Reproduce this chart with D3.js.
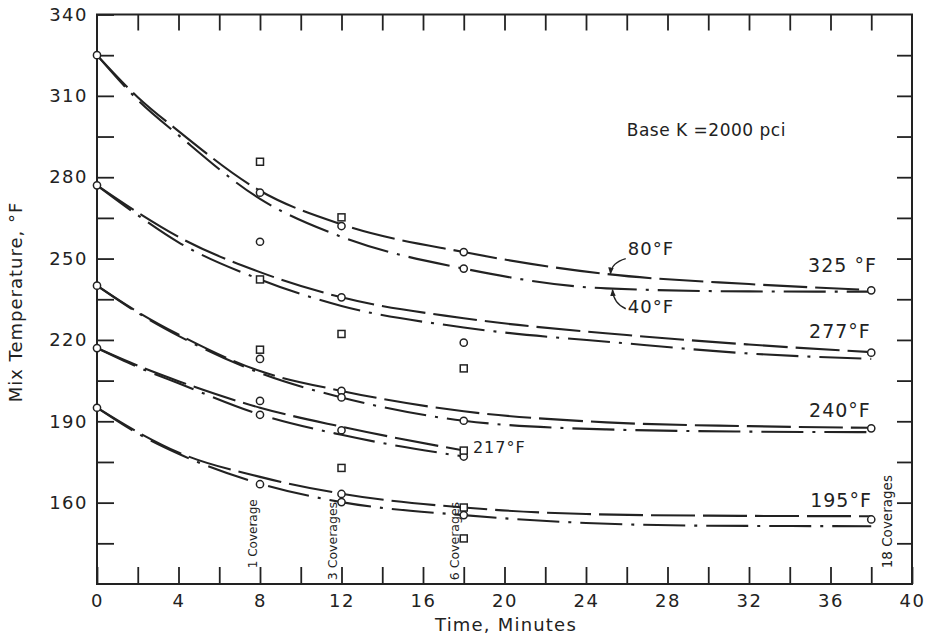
<!DOCTYPE html>
<html><head><meta charset="utf-8">
<script src="https://cdn.jsdelivr.net/npm/d3@7"></script>
<style>
body{margin:0;background:#fff}
svg text{font-family:"DejaVu Sans",sans-serif;fill:#222}
</style></head><body>
<svg id="chart" width="931" height="639"></svg>
<script>
// Axis ticks and labels
const xTickValues = d3.range(0, 41, 2);
const xLabelValues = d3.range(0, 41, 4);
const yTickValues = d3.range(145, 341, 15);
const yLabelValues = d3.range(160, 341, 30);

// Mix temperature vs time, [minutes, °F]; 80°F air = long dash, 40°F air = dash-dot
const mix325_air80 = [[0,325],[2,309.5],[4,297],[8,275],[12,262.6],[18,252.4],[25,244.3],[32,240.6],[38,238.4]];
const mix325_air40 = [[0,325],[2,308.5],[4,295.5],[8,272],[12,258],[18,246.3],[25,239],[32,237.9],[38,237.8]];
const mix277_air80 = [[0,277],[2,267],[4,258],[8,245],[12,235.7],[18,228],[26,221.8],[32,218.3],[38,215.5]];
const mix277_air40 = [[0,277],[2,266],[4,256],[8,242.3],[12,232.5],[18,224.6],[26,218.7],[32,215],[38,213]];
const mix240_air80 = [[0,240],[2,230.3],[4,222],[8,208.5],[12,201.2],[18,193.7],[25,189.6],[32,188.2],[38,187.6]];
const mix240_air40 = [[0,240],[2,230],[4,221.5],[8,207.8],[12,198.8],[18,190.2],[25,187],[32,186.2],[38,186]];
const mix217_air80 = [[0,217],[2,210.5],[4,204.8],[8,195],[12,188],[18,179.2]];
const mix217_air40 = [[0,217],[2,210],[4,204],[8,192.5],[12,185],[18,177]];
const mix195_air80 = [[0,195],[2,186],[4,178.5],[8,169.5],[12,163.3],[18,158.2],[24,155.8],[30,155.2],[38,155]];
const mix195_air40 = [[0,195],[2,185.5],[4,178],[8,167],[12,160.2],[18,155.4],[24,152.5],[30,151.5],[38,151.3]];

// Measured points
const circlePoints = [
  [0,325],[0,277],[0,240],[0,217],[0,195],
  [8,274.3],[8,256.2],[8,213],[8,197.5],[8,192.4],[8,166.8],
  [12,262],[12,235.7],[12,201.2],[12,198.8],[12,186.7],[12,163.2],[12,160.2],
  [18,252.4],[18,246.3],[18,219],[18,190.2],[18,177],[18,155.4],
  [38,238.3],[38,215.3],[38,187.4],[38,153.8]
];
const squarePoints = [
  [8,285.7],[8,242.3],[8,216.4],
  [12,265.2],[12,222.2],[12,172.8],
  [18,209.5],[18,179.2],[18,158.2],[18,146.8]
];

const coverageLabels = ["1 Coverage","3 Coverages","6 Coverages","18 Coverages"];

const svg = d3.select("#chart");
svg.append("rect").attr("width",931).attr("height",639).attr("fill","#fff");

const x = d3.scaleLinear().domain([0,40]).range([97,912]);
const y = d3.scaleLinear().domain([130,340]).range([584,14.5]);
const ink = "#222";

// Arrowhead
const defs = svg.append("defs");
defs.append("marker").attr("id","arrow").attr("viewBox","0 0 10 10")
  .attr("refX",9).attr("refY",5).attr("markerWidth",7).attr("markerHeight",7)
  .attr("orient","auto-start-reverse").attr("markerUnits","userSpaceOnUse")
  .append("path").attr("d","M0,1 L10,5 L0,9 Z").attr("fill",ink);

// Axes with inward ticks
function styleAxis(g){
  g.select(".domain").remove();
  g.selectAll(".tick line").attr("stroke",ink).attr("stroke-width",1.8);
  g.selectAll(".tick text").attr("fill",ink).style("font-size","18px").style("letter-spacing","1.5px");
}
svg.append("g").attr("transform",`translate(0,${y(130)})`)
  .call(d3.axisBottom(x).tickValues(xTickValues).tickSizeInner(-17).tickSizeOuter(0).tickPadding(10)
    .tickFormat(d => xLabelValues.includes(d) ? d : ""))
  .call(styleAxis);
svg.append("g").attr("transform",`translate(0,${y(340)})`)
  .call(d3.axisTop(x).tickValues(xTickValues.slice(1,-1)).tickSizeInner(-16).tickSizeOuter(0).tickFormat(""))
  .call(styleAxis);
svg.append("g").attr("transform",`translate(${x(0)},0)`)
  .call(d3.axisLeft(y).tickValues(yTickValues).tickSizeInner(-17).tickSizeOuter(0).tickPadding(9)
    .tickFormat(d => yLabelValues.includes(d) ? d : ""))
  .call(styleAxis);
svg.append("g").attr("transform",`translate(${x(40)},0)`)
  .call(d3.axisRight(y).tickValues(yTickValues.slice(0,-1)).tickSizeInner(-15).tickSizeOuter(0).tickFormat(""))
  .call(styleAxis);

// Frame
svg.append("rect").attr("x",x(0)).attr("y",y(340)).attr("width",x(40)-x(0)).attr("height",y(130)-y(340))
  .attr("fill","none").attr("stroke",ink).attr("stroke-width",2);

// Axis titles
svg.append("text").attr("x",506).attr("y",631).attr("text-anchor","middle")
  .style("font-size","18px").style("letter-spacing","1.2px").text("Time, Minutes");
svg.append("text").attr("transform","translate(22,302) rotate(-90)").attr("text-anchor","middle")
  .style("font-size","18px").style("letter-spacing","1px").text("Mix Temperature, °F");

// Curves
const line = d3.line().x(d => x(d[0])).y(d => y(d[1])).curve(d3.curveMonotoneX);
const air80 = [mix325_air80, mix277_air80, mix240_air80, mix217_air80, mix195_air80];
const air40 = [mix325_air40, mix277_air40, mix240_air40, mix217_air40, mix195_air40];
svg.append("g").selectAll("path").data(air80).join("path")
  .attr("d", line).attr("fill","none").attr("stroke",ink).attr("stroke-width",2.1)
  .attr("stroke-dasharray","44,8");
svg.append("g").selectAll("path").data(air40).join("path")
  .attr("d", line).attr("fill","none").attr("stroke",ink).attr("stroke-width",2.1)
  .attr("stroke-dasharray","42,9,3,9");

// Markers
svg.append("g").selectAll("circle").data(circlePoints).join("circle")
  .attr("cx",d=>x(d[0])).attr("cy",d=>y(d[1])).attr("r",3.6)
  .attr("fill","#fff").attr("stroke",ink).attr("stroke-width",1.5);
svg.append("g").selectAll("rect").data(squarePoints).join("rect")
  .attr("x",d=>x(d[0])-3.5).attr("y",d=>y(d[1])-3.5).attr("width",7).attr("height",7)
  .attr("fill","#fff").attr("stroke",ink).attr("stroke-width",1.5);

// Initial mix temperature labels
const tempLabel = (t, v, txt, size) => svg.append("text").attr("x",x(t)).attr("y",y(v))
  .style("font-size",size+"px").style("letter-spacing","1px").text(txt);
tempLabel(34.9, 245, "325 °F", 19);
tempLabel(34.95, 220.7, "277°F", 19);
tempLabel(34.95, 191.5, "240°F", 19);
tempLabel(18.45, 178.2, "217°F", 16);
tempLabel(35, 158.3, "195°F", 19);
tempLabel(26.05, 251.3, "80°F", 18);
tempLabel(26.05, 229.9, "40°F", 18);
svg.append("text").attr("x",x(26)).attr("y",y(295.2)).style("font-size","17px").style("letter-spacing","0.5px")
  .text("Base K =2000 pci");

// Arrows to the 325°F pair
svg.append("path").attr("d",`M${x(25.95)},${y(250)} Q${x(25.25)},${y(248.5)} ${x(25.2)},${y(244.4)}`)
  .attr("fill","none").attr("stroke",ink).attr("stroke-width",1.4).attr("marker-end","url(#arrow)");
svg.append("path").attr("d",`M${x(25.95)},${y(231.5)} Q${x(25.35)},${y(233.5)} ${x(25.3)},${y(238.5)}`)
  .attr("fill","none").attr("stroke",ink).attr("stroke-width",1.4).attr("marker-end","url(#arrow)");

// Coverage notes, written upward beside the sampling times
const coverageAt = [[7.63,135.8],[11.58,131.4],[17.57,131.4],[38.77,135.8]];
const coverageSize = [12, 12.5, 12.5, 13.5];
svg.append("g").selectAll("text").data(coverageLabels).join("text")
  .attr("transform",(d,i)=>`translate(${x(coverageAt[i][0])},${y(coverageAt[i][1])}) rotate(-90)`)
  .attr("dy","0.35em").style("font-size",(d,i)=>coverageSize[i]+"px").text(d=>d);
</script>
</body></html>
